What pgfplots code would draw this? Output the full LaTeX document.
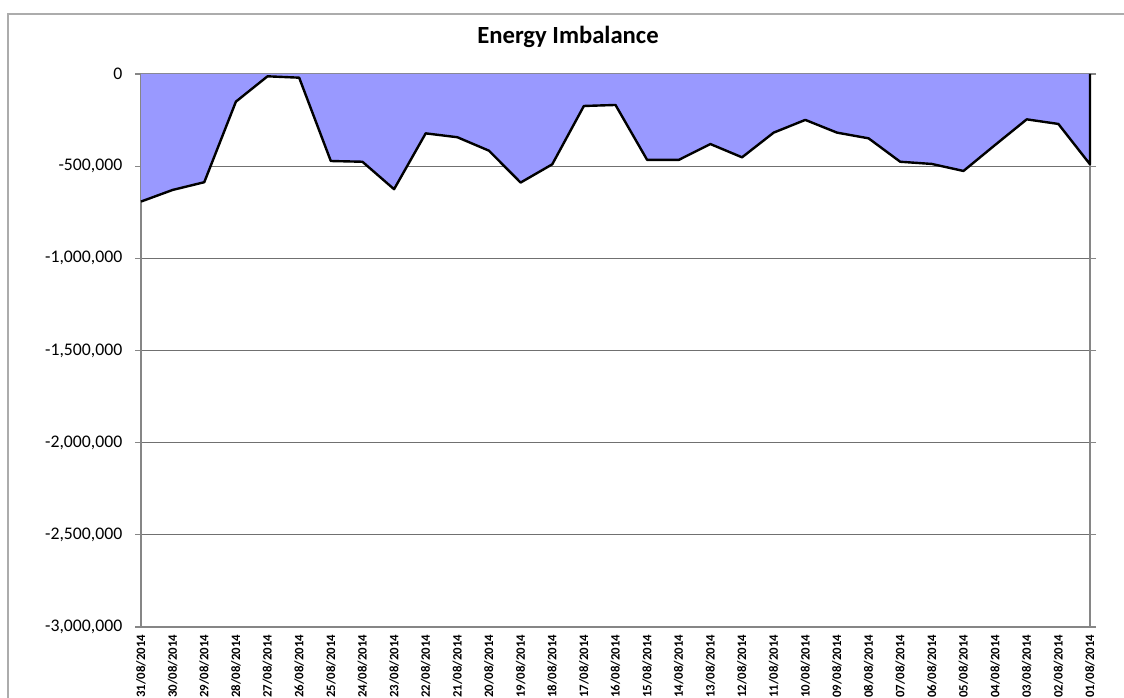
\documentclass[border=0pt]{standalone}
\usepackage{pgfplots}
\pgfplotsset{compat=1.18}
\usepackage{fontspec}
\setmainfont{Carlito}
\definecolor{areafill}{HTML}{9999FF}
\definecolor{axgray}{HTML}{868686}
\definecolor{gridgray}{HTML}{707070}
\begin{document}
\begin{tikzpicture}
\path[use as bounding box] (0,0) rectangle (843pt,522.75pt);
\clip (0,0) rectangle (843pt,522.75pt);
\draw[gray!65, line width=1.3pt] (6pt,-20pt) -- (6pt,512.25pt) -- (900pt,512.25pt);
\node[font=\bfseries\fontsize{18.5}{22}\selectfont] at (426pt,495pt) {Energy Imbalance};
\begin{axis}[
  at={(105.75pt,52.5pt)}, anchor=south west,
  scale only axis, width=711.75pt, height=414.75pt,
  xmin=0, xmax=30, ymin=-3000000, ymax=0,
  clip=false,
  xtick={0,...,30},
  xticklabels={31/08/2014,30/08/2014,29/08/2014,28/08/2014,27/08/2014,26/08/2014,25/08/2014,24/08/2014,23/08/2014,22/08/2014,21/08/2014,20/08/2014,19/08/2014,18/08/2014,17/08/2014,16/08/2014,15/08/2014,14/08/2014,13/08/2014,12/08/2014,11/08/2014,10/08/2014,09/08/2014,08/08/2014,07/08/2014,06/08/2014,05/08/2014,04/08/2014,03/08/2014,02/08/2014,01/08/2014},
  x tick label style={rotate=90, anchor=east, font=\bfseries\fontsize{9.6}{11}\selectfont, inner sep=1.2pt},
  ytick={-3000000,-2500000,-2000000,-1500000,-1000000,-500000,0},
  scaled y ticks=false,
  y tick label style={font=\fontsize{13.3}{16}\selectfont, xshift=-6pt},
  yticklabel style={/pgf/number format/.cd, fixed, 1000 sep={,}, assume math mode=true},
  ymajorgrids, grid style={gridgray, line width=0.6pt},
  axis line style={axgray, line width=1.5pt},
  tick align=outside,
  x tick style={draw=none},
  y tick style={axgray, line width=0.8pt},
  major tick length=4.5pt,
]
\addplot[fill=areafill, draw=none] coordinates {
(0,0) (0,-692000) (1,-629000) (2,-587000) (3,-150000) (4,-12500) (5,-20000)
(6,-472000) (7,-476000) (8,-625000) (9,-322000) (10,-343000) (11,-416000)
(12,-589000) (13,-490000) (14,-173500) (15,-168000) (16,-466000) (17,-466000)
(18,-380000) (19,-452000) (20,-318000) (21,-249000) (22,-318000) (23,-349000)
(24,-476000) (25,-488000) (26,-526000) (27,-385000) (28,-246000) (29,-271000)
(30,-490000) (30,0)} --cycle;
\addplot[black, line width=1.8pt, line join=round] coordinates {
(0,-692000) (1,-629000) (2,-587000) (3,-150000) (4,-12500) (5,-20000)
(6,-472000) (7,-476000) (8,-625000) (9,-322000) (10,-343000) (11,-416000)
(12,-589000) (13,-490000) (14,-173500) (15,-168000) (16,-466000) (17,-466000)
(18,-380000) (19,-452000) (20,-318000) (21,-249000) (22,-318000) (23,-349000)
(24,-476000) (25,-488000) (26,-526000) (27,-385000) (28,-246000) (29,-271000)
(30,-490000) (30,0)};
\end{axis}
\end{tikzpicture}
\end{document}
